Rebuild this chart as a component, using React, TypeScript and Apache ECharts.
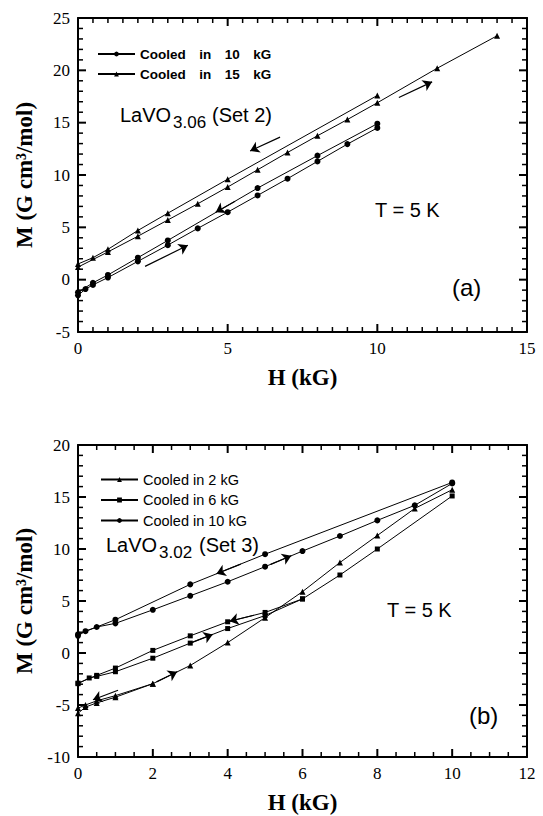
import React, { useEffect, useRef } from "react";
import * as echarts from "echarts";

type Pt = [number, number];

// ---- Panel (a): LaVO3.06 (Set 2) ----
// Cooled in 10 kG: field swept down from 10 kG, then back up
const aCool10Down: Pt[] = [[10, 14.9], [8, 11.85], [6, 8.75], [3, 3.75], [2, 2.1], [1, 0.45], [0.5, -0.3], [0, -1.2]];
const aCool10Up: Pt[] = [[0, -1.5], [0.25, -0.9], [0.5, -0.5], [1, 0.2], [2, 1.75], [3, 3.3], [4, 4.9], [5, 6.45], [6, 8.05], [7, 9.65], [8, 11.3], [9, 12.95], [10, 14.5]];
// Cooled in 15 kG
const aCool15Down: Pt[] = [[10, 17.6], [5, 9.6], [3, 6.35], [2, 4.7], [1, 2.9], [0.5, 2.1], [0, 1.5]];
const aCool15Up: Pt[] = [[0, 1.2], [1, 2.65], [2, 4.15], [3, 5.7], [4, 7.25], [5, 8.85], [6, 10.5], [7, 12.15], [8, 13.75], [9, 15.3], [10, 16.9], [12, 20.2], [14, 23.3]];
// sweep-direction arrows [x1, y1, x2, y2]
const aArrows: number[][] = [
  [2.24, 1.27, 3.67, 3.28],
  [5.25, 7.5, 4.6, 6.45],
  [10.72, 17.4, 11.83, 18.9],
  [6.75, 13.62, 5.75, 12.3],
];

// ---- Panel (b): LaVO3.02 (Set 3) ----
const bCool2Down: Pt[] = [[2, -2.95], [1, -4.1], [0.5, -4.6], [0.2, -5.0], [0, -5.3]];
const bCool2Up: Pt[] = [[0, -5.8], [0.2, -5.2], [0.5, -4.8], [1, -4.25], [2, -2.95], [3, -1.2], [4, 1.0], [5, 3.4], [6, 5.9], [7, 8.7], [8, 11.3], [9, 13.9], [10, 15.7]];
const bCool6Down: Pt[] = [[6, 5.2], [5, 3.9], [4, 3.0], [3, 1.65], [2, 0.25], [1, -1.45], [0.5, -2.15], [0, -2.9]];
const bCool6Up: Pt[] = [[0, -2.95], [0.3, -2.4], [0.5, -2.25], [1, -1.8], [2, -0.5], [3, 0.95], [4, 2.35], [5, 3.6], [6, 5.2], [7, 7.5], [8, 10.0], [10, 15.1]];
const bCool10Down: Pt[] = [[10, 16.4], [5, 9.5], [3, 6.6], [1, 3.2], [0, 1.8]];
const bCool10Up: Pt[] = [[0, 1.65], [0.2, 2.1], [0.5, 2.5], [1, 2.85], [2, 4.15], [3, 5.5], [4, 6.85], [5, 8.3], [6, 9.8], [7, 11.25], [8, 12.75], [9, 14.2], [10, 16.3]];
const bArrows: number[][] = [
  [4.35, 8.55, 3.7, 7.62],
  [5.15, 8.52, 5.7, 9.35],
  [4.7, 3.63, 4.05, 3.05],
  [3.0, 0.95, 3.6, 1.79],
  [2.1, -2.78, 2.65, -1.81],
  [1.07, -3.58, 0.4, -4.5],
];

const legendA = ["Cooled in 10 kG", "Cooled in 15 kG"];
const legendB = ["Cooled in 2 kG", "Cooled in 6 kG", "Cooled in 10 kG"];

// axis ranges: [min, max, major step, minor step]
const aX = [0, 15, 5, 0.5];
const aY = [-5, 25, 5, 1];
const bX = [0, 12, 2, 0.5];
const bY = [-10, 20, 5, 1];

const SERIF = '"Liberation Serif", "Times New Roman", Times, serif';
const SANS = '"Liberation Sans", Arial, Helvetica, sans-serif';

const GRID_A = { left: 78, top: 18, width: 449, height: 314 };
const GRID_B = { left: 78, top: 445, width: 449, height: 312 };

// One side of a boxed frame; the second axis of a grid lands on the opposite side.
function frameAxis(grid: number, r: number[], title?: string, nameGap?: number) {
  const axis: any = {
    type: "value",
    gridIndex: grid,
    min: r[0],
    max: r[1],
    interval: r[2],
    axisLine: { show: true, onZero: false, lineStyle: { color: "#000", width: 2 } },
    axisTick: { show: false },
    splitLine: { show: false },
    axisLabel: title
      ? { show: true, margin: 8, fontFamily: SERIF, fontSize: 17, color: "#000" }
      : { show: false },
  };
  if (title) {
    axis.name = title;
    axis.nameLocation = "middle";
    axis.nameGap = nameGap;
    axis.nameTextStyle = { fontFamily: SERIF, fontWeight: "bold", fontSize: 23, color: "#000" };
  }
  return axis;
}

// Inward tick marks on all four sides of a frame, placed through the axis scales.
function frameTicks(axis: number, xr: number[], yr: number[]) {
  const items: number[][] = [];
  const nx = Math.round((xr[1] - xr[0]) / xr[3]);
  for (let i = 0; i <= nx; i++) {
    const v = xr[0] + i * xr[3];
    const major = Math.abs(v / xr[2] - Math.round(v / xr[2])) < 1e-6 ? 1 : 0;
    items.push([v, yr[0], 0, major]);
  }
  const ny = Math.round((yr[1] - yr[0]) / yr[3]);
  for (let i = 0; i <= ny; i++) {
    const v = yr[0] + i * yr[3];
    const major = Math.abs(v / yr[2] - Math.round(v / yr[2])) < 1e-6 ? 1 : 0;
    items.push([xr[0], v, 1, major]);
  }
  return {
    type: "custom",
    coordinateSystem: "cartesian2d",
    xAxisIndex: axis,
    yAxisIndex: axis,
    silent: true,
    clip: false,
    z: 6,
    data: items,
    renderItem: (_p: any, api: any) => {
      const x = api.value(0);
      const y = api.value(1);
      const kind = api.value(2);
      const major = api.value(3) === 1;
      const len = major ? 8 : 5;
      const style = { stroke: "#000", lineWidth: major ? 2 : 1.5 };
      if (kind === 0) {
        const a = api.coord([x, yr[0]]);
        const b = api.coord([x, yr[1]]);
        return {
          type: "group",
          children: [
            { type: "line", shape: { x1: a[0], y1: a[1], x2: a[0], y2: a[1] - len }, style },
            { type: "line", shape: { x1: b[0], y1: b[1], x2: b[0], y2: b[1] + len }, style },
          ],
        };
      }
      const a = api.coord([xr[0], y]);
      const b = api.coord([xr[1], y]);
      return {
        type: "group",
        children: [
          { type: "line", shape: { x1: a[0], y1: a[1], x2: a[0] + len, y2: a[1] }, style },
          { type: "line", shape: { x1: b[0], y1: b[1], x2: b[0] - len, y2: b[1] }, style },
        ],
      };
    },
  };
}

function arrowMarks(list: number[][]) {
  return {
    silent: true,
    symbol: ["none", "arrow"],
    symbolSize: 9,
    label: { show: false },
    lineStyle: { color: "#000", width: 1.2, type: "solid", opacity: 1 },
    data: list.map((a) => [{ coord: [a[0], a[1]] }, { coord: [a[2], a[3]] }]),
  };
}

function curve(name: string, data: Pt[], symbol: string, axis: number, size: number, marks?: number[][]) {
  const s: any = {
    type: "line",
    name,
    data,
    xAxisIndex: axis,
    yAxisIndex: axis,
    symbol,
    symbolSize: size,
    showSymbol: true,
    showAllSymbol: true,
    lineStyle: { color: "#000", width: 1 },
    itemStyle: { color: "#000" },
    silent: true,
  };
  if (marks) s.markLine = arrowMarks(marks);
  return s;
}

function label(text: string, x: number, y: number, size: number) {
  return {
    type: "text",
    x,
    y,
    silent: true,
    style: {
      text,
      fill: "#000",
      fontSize: size,
      fontFamily: SANS,
      textAlign: "left",
      textVerticalAlign: "middle",
    },
  };
}

export default function App() {
  const ref = useRef<HTMLDivElement>(null);

  useEffect(() => {
    if (!ref.current) return;
    const chart = echarts.init(ref.current, undefined, { renderer: "svg" });

    const option = {
      animation: false,
      backgroundColor: "#fff",
      grid: [GRID_A, GRID_B],
      xAxis: [
        frameAxis(0, aX, "H (kG)", 34),
        frameAxis(0, aX),
        frameAxis(1, bX, "H (kG)", 34),
        frameAxis(1, bX),
      ],
      yAxis: [
        frameAxis(0, aY, "M (G cm³/mol)", 42),
        frameAxis(0, aY),
        frameAxis(1, bY, "M (G cm³/mol)", 42),
        frameAxis(1, bY),
      ],
      legend: [
        {
          data: legendA,
          orient: "vertical",
          left: 92,
          top: 42,
          itemWidth: 37,
          itemHeight: 6,
          itemGap: 6,
          selectedMode: false,
          formatter: (n: string) => n.split(" ").join("\u2002\u2002"),
          textStyle: { fontFamily: SANS, fontWeight: "bold", fontSize: 13.5, lineHeight: 14, color: "#000" },
        },
        {
          data: legendB,
          orient: "vertical",
          left: 95,
          top: 467,
          itemWidth: 37,
          itemHeight: 6,
          itemGap: 5.5,
          selectedMode: false,
          textStyle: { fontFamily: SANS, fontSize: 14.5, lineHeight: 15, color: "#000" },
        },
      ],
      series: [
        curve("Cooled in 10 kG", aCool10Down, "circle", 0, 6, aArrows),
        curve("Cooled in 10 kG", aCool10Up, "circle", 0, 6),
        curve("Cooled in 15 kG", aCool15Down, "triangle", 0, 6),
        curve("Cooled in 15 kG", aCool15Up, "triangle", 0, 6),
        frameTicks(0, aX, aY),
        curve("Cooled in 2 kG", bCool2Down, "triangle", 2, 6, bArrows),
        curve("Cooled in 2 kG", bCool2Up, "triangle", 2, 6),
        curve("Cooled in 6 kG", bCool6Down, "rect", 2, 5),
        curve("Cooled in 6 kG", bCool6Up, "rect", 2, 5),
        curve("Cooled in 10 kG", bCool10Down, "circle", 2, 6),
        curve("Cooled in 10 kG", bCool10Up, "circle", 2, 6),
        frameTicks(2, bX, bY),
      ],
      graphic: [
        label("LaVO", 120, 115, 20),
        label("3.06", 173, 122, 17),
        label("(Set 2)", 212, 115, 20),
        label("T = 5 K", 375, 210, 20),
        label("(a)", 452, 287, 24),
        label("LaVO", 106, 545, 20),
        label("3.02", 159, 552, 17),
        label("(Set 3)", 199, 545, 20),
        label("T = 5 K", 387, 610, 20),
        label("(b)", 469, 715, 24),
      ],
    };

    chart.setOption(option as any);
    return () => chart.dispose();
  }, []);

  return (
    <div
      ref={ref}
      style={{ position: "fixed", left: 0, top: 0, width: 543, height: 816, background: "#fff" }}
    />
  );
}
